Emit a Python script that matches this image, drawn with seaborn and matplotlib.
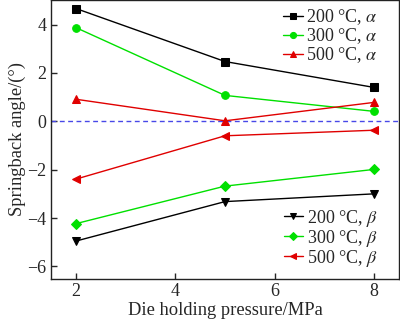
import matplotlib
matplotlib.use("Agg")
import matplotlib.pyplot as plt
import seaborn as sns
import pandas as pd

pressure = [2, 5, 8]
alpha_200 = [4.66, 2.47, 1.40]
alpha_300 = [3.87, 1.07, 0.41]
alpha_500 = [0.91, 0.02, 0.78]
beta_200 = [-4.95, -3.32, -3.00]
beta_300 = [-4.23, -2.68, -1.99]
beta_500 = [-2.39, -0.60, -0.37]

labels_alpha = ["200 °C, $\\alpha$", "300 °C, $\\alpha$", "500 °C, $\\alpha$"]
labels_beta = ["200 °C, $\\beta$", "300 °C, $\\beta$", "500 °C, $\\beta$"]
x_ticks = [2, 4, 6, 8]
y_ticks = [-6, -4, -2, 0, 2, 4]

sns.set_style("ticks")
plt.rcParams["font.family"] = ["Liberation Serif", "DejaVu Serif"]
plt.rcParams["mathtext.fontset"] = "stix"
plt.rcParams["axes.unicode_minus"] = True

colors = ["black", "#00e000", "#e00000"]
fig, ax = plt.subplots(figsize=(4.0, 3.22), dpi=100)

ax.axhline(0, color="#4848e8", ls=(0, (3.5, 2.5)), lw=1.0, zorder=1)

alpha_series = [alpha_200, alpha_300, alpha_500]
beta_series = [beta_200, beta_300, beta_500]
alpha_markers = ["s", "o", "^"]
beta_markers = ["v", "D", "<"]

h_alpha = []
for vals, lab, c, m in zip(alpha_series, labels_alpha, colors, alpha_markers):
    df = pd.DataFrame({"p": pressure, "v": vals})
    sns.lineplot(data=df, x="p", y="v", ax=ax, color=c, marker=m, markersize=5.5,
                 markeredgecolor=c, lw=1.0, label=lab, legend=False)
    h_alpha.append(ax.lines[-1])

h_beta = []
for vals, lab, c, m in zip(beta_series, labels_beta, colors, beta_markers):
    df = pd.DataFrame({"p": pressure, "v": vals})
    sns.lineplot(data=df, x="p", y="v", ax=ax, color=c, marker=m,
                 markersize=5 if m == "D" else 5.5,
                 markeredgecolor=c, lw=1.0, label=lab, legend=False)
    h_beta.append(ax.lines[-1])

ax.set_xlim(1.5, 8.5)
ax.set_ylim(-6.5, 5)
ax.set_xticks(x_ticks)
ax.set_yticks(y_ticks)
ax.tick_params(direction="in", labelsize=13, length=4, width=1, top=False, right=False)
ax.set_xlabel("Die holding pressure/MPa", fontsize=13.3, labelpad=1)
ax.set_ylabel("Springback angle/(°)", fontsize=13.3, labelpad=1)
for s in ax.spines.values():
    s.set_linewidth(1.0)
    s.set_color("#222222")

leg_kw = dict(frameon=False, fontsize=13, handlelength=1.1, handletextpad=0.2,
              labelspacing=-0.05, borderaxespad=0.0, borderpad=0.0, markerscale=0.8)
leg1 = ax.legend(h_alpha, labels_alpha, loc="upper right",
                 bbox_to_anchor=(0.94, 0.975), **leg_kw)
ax.add_artist(leg1)
ax.legend(h_beta, labels_beta, loc="lower right",
          bbox_to_anchor=(0.94, 0.035), **leg_kw)

fig.subplots_adjust(left=0.128, right=0.997, top=0.999, bottom=0.135)
fig.savefig("out.png", dpi=100)
